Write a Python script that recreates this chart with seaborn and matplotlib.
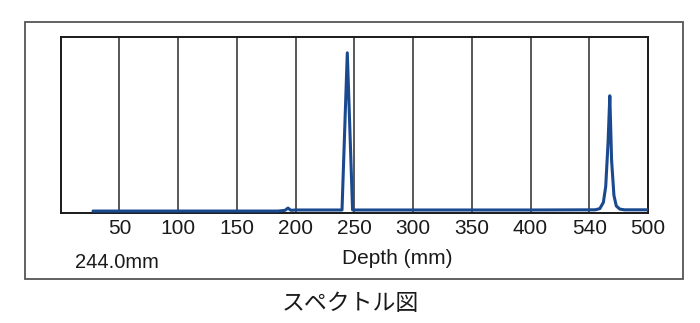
import matplotlib
matplotlib.use("Agg")
import matplotlib.pyplot as plt
import matplotlib.patches as mpatches
import seaborn as sns
import pandas as pd

# Data
depth = [27.5, 100, 185, 191, 193.5, 196, 200, 239.5, 244, 248.5, 300, 400, 455,
         459, 462, 464, 466, 467.5, 469, 471, 473, 476, 480, 500]
intensity = [1.1, 1.1, 1.1, 1.5, 2.8, 1.5, 1.7, 1.7, 91, 1.7, 1.7, 1.7, 1.8,
             2.5, 6, 15, 40, 66.6, 30, 10, 4, 2.2, 1.8, 1.8]
tick_values = [50, 100, 150, 200, 250, 300, 350, 400, 450, 500]
tick_labels = ["50", "100", "150", "200", "250", "300", "350", "400", "540", "500"]
xlabel = "Depth (mm)"
readout = "244.0mm"
title = "スペクトル図"

sns.set_theme(style="white")
plt.rcParams['font.family'] = ['Liberation Sans', 'DejaVu Sans']

df = pd.DataFrame({"depth": depth, "intensity": intensity})

fig = plt.figure(figsize=(7.0, 3.23), dpi=100)
fig.patch.set_facecolor("white")
ax = fig.add_axes([0.0867, 0.3406, 0.8390, 0.5449])

for xv in tick_values[:-1]:
    ax.axvline(xv, color="#2a2a2a", lw=1.1, zorder=1)

sns.lineplot(data=df, x="depth", y="intensity", ax=ax, color="#1a4990",
             lw=2.2, sort=False, zorder=3)

ax.set_xlim(0, 500)
ax.set_ylim(0, 100)
ax.set_xticks(tick_values)
ax.set_xticklabels(tick_labels, fontsize=15, color="#1a1a1a")
ax.set_yticks([])
ax.tick_params(axis="x", length=0, pad=4)
ax.set_xlabel("")
ax.set_ylabel("")
for s in ax.spines.values():
    s.set_color("#1a1a1a")
    s.set_linewidth(1.4)

fig.text(397 / 700, 1 - 258 / 323, xlabel, fontsize=15, ha="center",
         va="center", color="#1a1a1a")
fig.text(75 / 700, 1 - 262 / 323, readout, fontsize=14.5, ha="left",
         va="center", color="#1a1a1a")
fig.text(350 / 700, 1 - 304 / 323, title, fontsize=16.5, ha="center",
         va="center", color="#1a1a1a",
         family=['Noto Sans CJK JP', 'DejaVu Sans'])

box = mpatches.Rectangle((24.5 / 700, 1 - 279 / 323), (683 - 24.5) / 700,
                         (279 - 21.7) / 323, transform=fig.transFigure,
                         fill=False, edgecolor="#555555", lw=1.3)
fig.patches.append(box)

fig.savefig("out.png", dpi=100, facecolor="white")
